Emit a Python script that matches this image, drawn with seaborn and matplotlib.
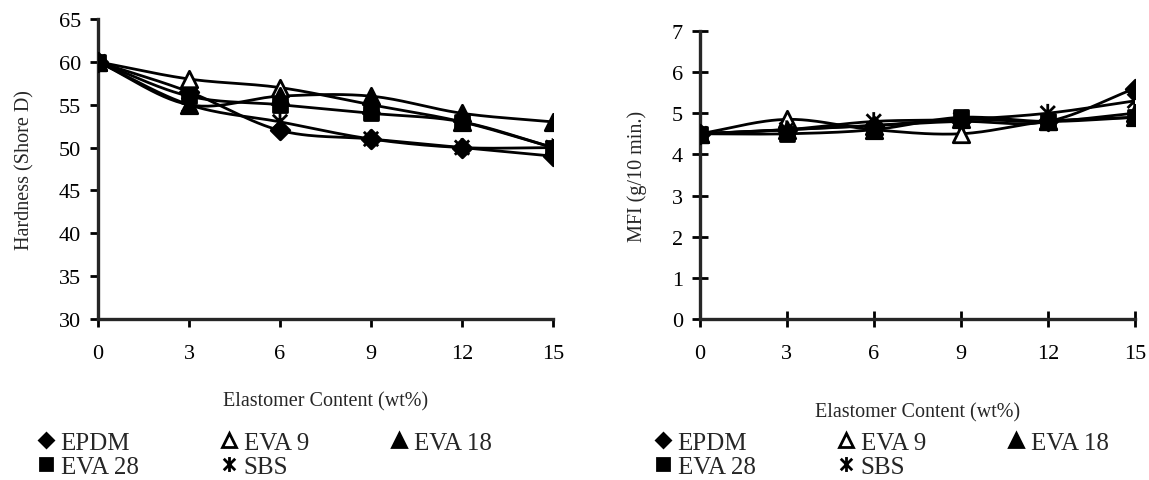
import numpy as np
import pandas as pd
import matplotlib
matplotlib.use("Agg")
import matplotlib.pyplot as plt
import seaborn as sns
from matplotlib.path import Path
from matplotlib.lines import Line2D

# ==========================================================
# DATA
# ==========================================================

content = [0, 3, 6, 9, 12, 15]
series_names = ["EPDM", "EVA 9", "EVA 18", "EVA 28", "SBS"]

hardness_epdm = [60, 56.5, 52, 51, 50, 49]
hardness_eva9 = [60, 58, 57, 55, 53, 50]
hardness_eva18 = [60, 55, 56, 56, 54, 53]
hardness_eva28 = [60, 56, 55, 54, 53, 50]
hardness_sbs = [60, 55, 53, 51, 50, 50]

mfi_epdm = [4.5, 4.6, 4.7, 4.8, 4.8, 5.6]
mfi_eva9 = [4.5, 4.85, 4.6, 4.5, 4.8, 4.9]
mfi_eva18 = [4.5, 4.6, 4.7, 4.85, 4.8, 5.0]
mfi_eva28 = [4.5, 4.5, 4.6, 4.9, 4.8, 4.9]
mfi_sbs = [4.5, 4.6, 4.8, 4.85, 5.0, 5.3]

hardness = [hardness_epdm, hardness_eva9, hardness_eva18, hardness_eva28, hardness_sbs]
mfi = [mfi_epdm, mfi_eva9, mfi_eva18, mfi_eva28, mfi_sbs]

# ==========================================================
# STYLE
# ==========================================================

sns.set_style("ticks")
plt.rcParams["font.family"] = ["Liberation Serif", "DejaVu Serif"]

star = Path(
    [(-1, -1), (1, 1), (-1, 1), (1, -1), (0, -1.3), (0, 1.3)],
    [Path.MOVETO, Path.LINETO, Path.MOVETO, Path.LINETO, Path.MOVETO, Path.LINETO],
)

marker_style = {
    "EPDM": dict(marker="D", fc="black", size=90),
    "EVA 9": dict(marker="^", fc="white", size=140),
    "EVA 18": dict(marker="^", fc="black", size=140),
    "EVA 28": dict(marker="s", fc="black", size=100),
    "SBS": dict(marker=star, fc="none", size=180),
}


def smooth(x, y, n=30):
    # Excel style smoothed line (Catmull-Rom through the points)
    x = np.asarray(x, float)
    y = np.asarray(y, float)
    px = np.concatenate([[2 * x[0] - x[1]], x, [2 * x[-1] - x[-2]]])
    py = np.concatenate([[2 * y[0] - y[1]], y, [2 * y[-1] - y[-2]]])
    xs, ys = [], []
    t = np.linspace(0, 1, n)
    for i in range(1, len(px) - 2):
        for p, out in ((px, xs), (py, ys)):
            p0, p1, p2, p3 = p[i - 1], p[i], p[i + 1], p[i + 2]
            out.extend(0.5 * ((2 * p1) + (-p0 + p2) * t
                              + (2 * p0 - 5 * p1 + 4 * p2 - p3) * t ** 2
                              + (-p0 + 3 * p1 - 3 * p2 + p3) * t ** 3))
    return np.array(xs), np.array(ys)


def draw_panel(ax, values):
    for name, vals in zip(series_names, values):
        sx, sy = smooth(content, vals)
        sns.lineplot(x=sx, y=sy, ax=ax, color="black", lw=2.0, sort=False,
                     estimator=None)
    for name, vals in zip(series_names, values):
        st = marker_style[name]
        sns.scatterplot(x=content, y=vals, ax=ax, marker=st["marker"],
                        s=st["size"], facecolor=st["fc"], edgecolor="black",
                        linewidth=2.0, zorder=5)


fig = plt.figure(figsize=(11.49, 4.81), dpi=100)

ax1 = fig.add_axes([0.0853, 0.3347, 0.396, 0.6237])
ax2 = fig.add_axes([0.609, 0.3347, 0.3786, 0.599])

draw_panel(ax1, hardness)
draw_panel(ax2, mfi)

ax1.set_xlim(0, 15)
ax1.set_ylim(30, 65)
ax1.set_yticks(range(30, 66, 5))
ax2.set_xlim(0, 15)
ax2.set_ylim(0, 7)
ax2.set_yticks(range(0, 8))

for ax in (ax1, ax2):
    ax.set_xticks(content)
    sns.despine(ax=ax)
    ax.spines["left"].set_linewidth(2.4)
    ax.spines["bottom"].set_linewidth(2.4)
    ax.tick_params(labelsize=16, width=2.0, length=6, colors="black", pad=6)
    ax.tick_params(axis="x", pad=12)
    for s in ax.spines.values():
        s.set_clip_on(False)

ax2.tick_params(direction="inout", length=12)

ax1.set_ylabel("Hardness (Shore D)", fontsize=14.5, labelpad=18)
ax2.set_ylabel("MFI (g/10 min.)", fontsize=14.5, labelpad=18)
ax1.set_xlabel("Elastomer Content (wt%)", fontsize=14.5, labelpad=20)
ax2.set_xlabel("Elastomer Content (wt%)", fontsize=14.5, labelpad=28)

# ==========================================================
# LEGENDS (row-major order)
# ==========================================================

handles = {}
for name in series_names:
    st = marker_style[name]
    handles[name] = Line2D([], [], ls="none", marker=st["marker"],
                           markerfacecolor=st["fc"], markeredgecolor="black",
                           markeredgewidth=2.0,
                           markersize=np.sqrt(st["size"]) * 0.8)

order = ["EPDM", "EVA 28", "EVA 9", "SBS", "EVA 18"]
for x0 in (0.018, 0.555):
    fig.legend([handles[n] for n in order], order, ncol=3,
               loc="lower left", bbox_to_anchor=(x0, -0.027),
               frameon=False, fontsize=18, handlelength=0.8,
               handletextpad=0.2, columnspacing=3.2, labelspacing=0.05,
               borderaxespad=0.2)

fig.savefig("out.png", dpi=100)
